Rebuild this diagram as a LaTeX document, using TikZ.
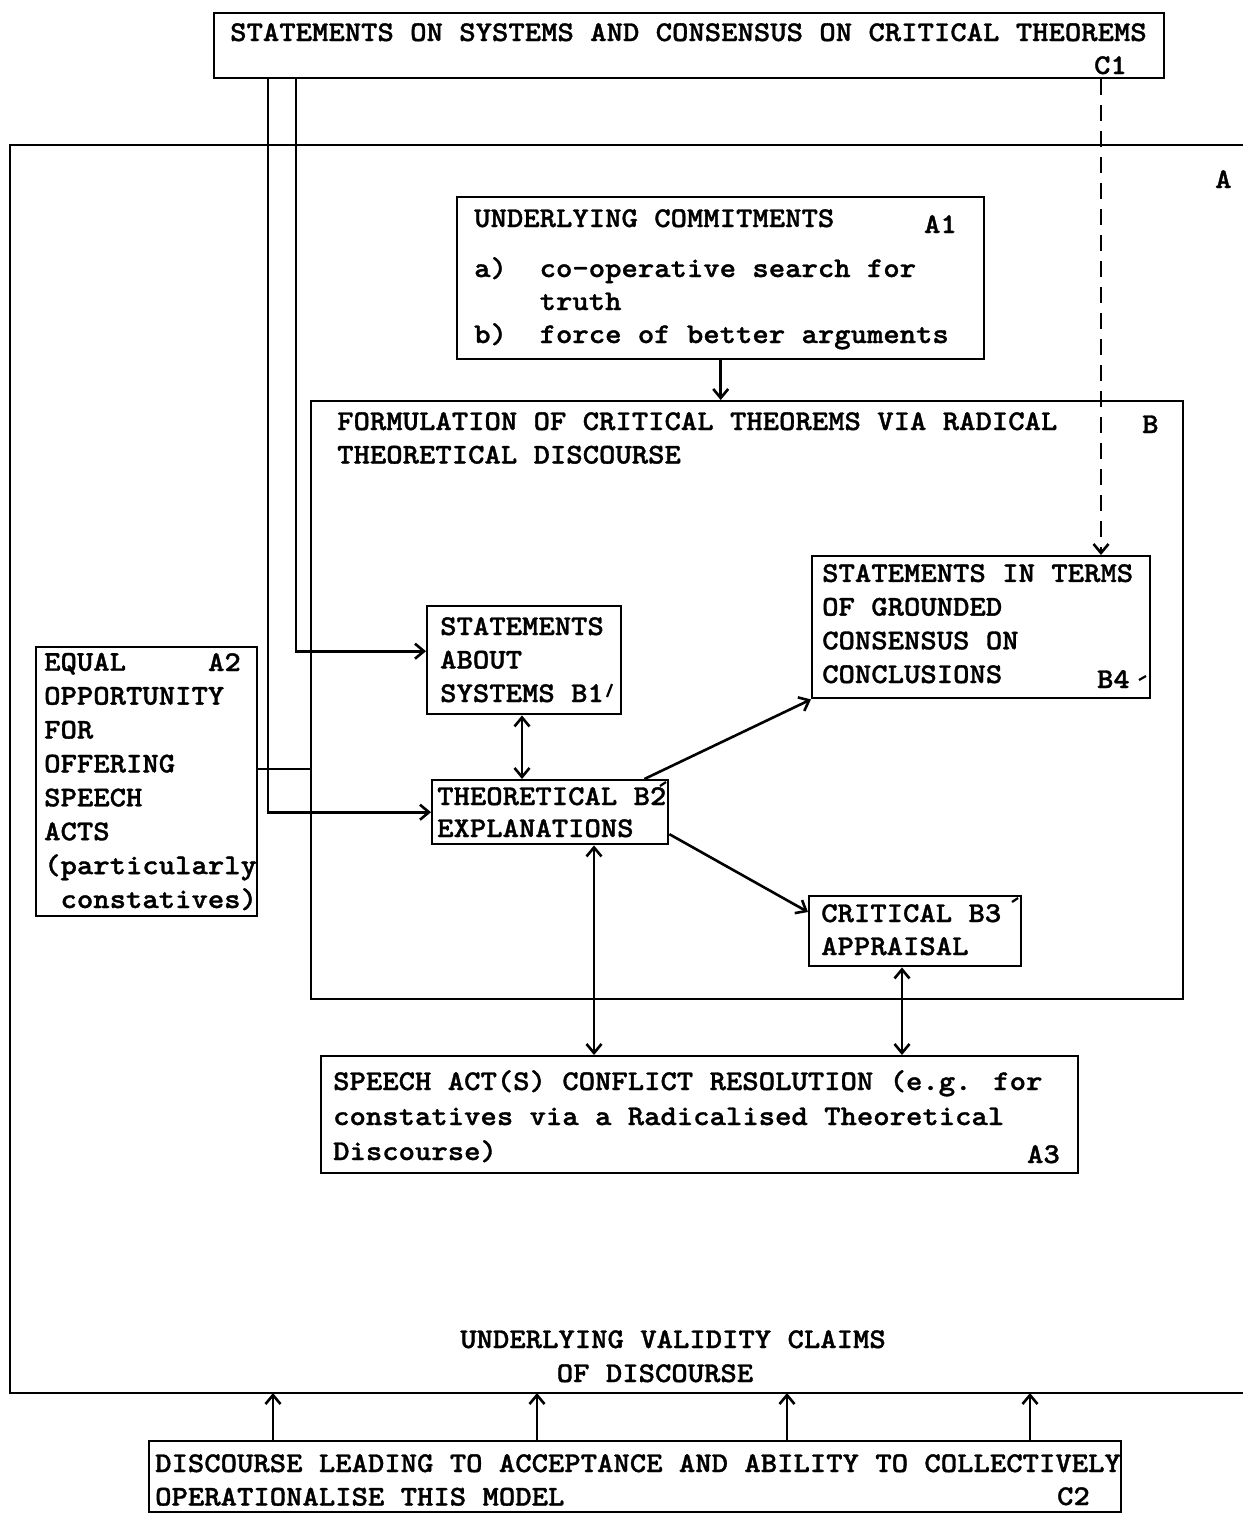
\documentclass[tikz,border=0pt]{standalone}
\usepackage{fontspec}
\usetikzlibrary{arrows.meta}
\newfontfamily\tw{lmmonolt10-bold.otf}[FakeStretch=1.09,FakeBold=1.2]
\tikzset{
  box/.style={draw, line width=2.4pt, inner sep=0pt, anchor=north west},
  lbl/.style={font=\tw\fontsize{28.6}{33.5}\selectfont, inner sep=0pt, anchor=base west, align=left},
  lblr/.style={lbl, anchor=base east},
  ln/.style={line width=2.4pt},
  tick/.style={line width=2.2pt},
  arr/.style={line width=2.6pt, -{Straight Barb[length=9pt,width=15pt]}},
  darr/.style={line width=2.6pt, {Straight Barb[length=9pt,width=15pt]}-{Straight Barb[length=9pt,width=15pt]}},
}
\begin{document}
\begin{tikzpicture}[x=1pt,y=-1pt]
\useasboundingbox (0,0) rectangle (1243,1513);
\fill[white] (0,0) rectangle (1243,1513);

% boxes
\node[box, minimum width=950pt, minimum height=65pt] (c1) at (213,12) {};
\node[box, minimum width=527pt, minimum height=162pt] (a1) at (456,196) {};
\node[box, minimum width=872pt, minimum height=598pt] (b) at (310,400) {};
\node[box, minimum width=338pt, minimum height=142pt] (b4) at (811,555) {};
\node[box, minimum width=194pt, minimum height=108pt] (b1) at (426,605) {};
\node[box, minimum width=236pt, minimum height=64pt] (b2) at (431,779) {};
\node[box, minimum width=212pt, minimum height=70pt] (b3) at (808,895) {};
\node[box, minimum width=221pt, minimum height=269pt] (a2) at (35,646) {};
\node[box, minimum width=757pt, minimum height=117pt] (a3) at (320,1055) {};
\node[box, minimum width=972pt, minimum height=71pt] (c2) at (148,1440) {};

% outer frame A
\coordinate (atr) at (1243,145);
\coordinate (atl) at (10,145);
\coordinate (abl) at (10,1393);
\coordinate (abr) at (1243,1393);
\draw[ln] (atr) -- (atl) -- (abl) -- (abr);

% texts (multi-line nodes are placed by the baseline of their last line)
\node[lbl] (t-c1) at (230,41) {STATEMENTS ON SYSTEMS AND CONSENSUS ON CRITICAL THEOREMS};
\node[lblr] (l-c1) at (1127,74) {C1};
\node[lbl] (t-a) at (1215,188) {A};
\node[lbl] (t-a1) at (474,227) {UNDERLYING COMMITMENTS};
\node[lblr] (l-a1) at (957,233) {A1};
\node[lbl, font=\tw\fontsize{28.6}{33}\selectfont] (t-a1b) at (474,343) {a)~~co-operative search for\\~~~~truth\\b)~~force of better arguments};
\node[lbl] (t-b) at (337,463.5) {FORMULATION OF CRITICAL THEOREMS VIA RADICAL\\THEORETICAL DISCOURSE};
\node[lbl] (l-b) at (1142,433) {B};
\node[lbl, font=\tw\fontsize{28.6}{33.7}\selectfont] (t-b4) at (822,683) {STATEMENTS IN TERMS\\OF GROUNDED\\CONSENSUS ON\\CONCLUSIONS};
\node[lblr] (l-b4) at (1130,688) {B4};
\node[lbl] (t-b1) at (440,702) {STATEMENTS\\ABOUT\\SYSTEMS B1};
\node[lbl, font=\tw\fontsize{28.6}{32}\selectfont] (t-b2) at (437,837) {THEORETICAL B2\\EXPLANATIONS};
\node[lbl, font=\tw\fontsize{28.6}{33}\selectfont] (t-b3) at (821,955) {CRITICAL B3\\APPRAISAL};
\node[lbl, font=\tw\fontsize{28.6}{33.9}\selectfont] (t-a2) at (44,908) {EQUAL\\OPPORTUNITY\\FOR\\OFFERING\\SPEECH\\ACTS\\(particularly\\~constatives)};
\node[lblr] (l-a2) at (241,671) {A2};
\node[lbl, font=\tw\fontsize{28.6}{35}\selectfont] (t-a3) at (333,1160) {SPEECH ACT(S) CONFLICT RESOLUTION (e.g. for\\constatives via a Radicalised Theoretical\\Discourse)};
\node[lblr] (l-a3) at (1060,1163) {A3};
\node[lbl, anchor=base] (t-v1) at (673,1348) {UNDERLYING VALIDITY CLAIMS};
\node[lbl, anchor=base] (t-v2) at (655,1382) {OF DISCOURSE};
\node[lbl] (t-c2) at (155,1505.5) {DISCOURSE LEADING TO ACCEPTANCE AND ABILITY TO COLLECTIVELY\\OPERATIONALISE THIS MODEL};
\node[lblr] (l-c2) at (1090,1505) {C2};

% small tick marks after the B labels
\draw[tick] (612,684) -- (607,697);
\draw[tick] (660,786) -- (666,782);
\draw[tick] (1012,902) -- (1018,898);
\draw[tick] (1139,680) -- (1146,676);

% connectors
\draw[arr] (a1.south) -- (a1.south |- b.north);
\coordinate (dx) at (1101,0);
\draw[arr, dash pattern=on 16pt off 10pt] (c1.south -| dx) -- (b4.north -| dx);
\coordinate (l1) at (268,0);
\coordinate (l2) at (296,0);
\draw[arr] (c1.south -| l2) |- ([yshift=9pt]b1.west);
\draw[arr] (c1.south -| l1) |- (b2.west);
\coordinate (h) at (0,769);
\draw[ln] (a2.east |- h) -- (b.west |- h);
\coordinate (v1) at (522,0);
\draw[darr] (b1.south -| v1) -- (b2.north -| v1);
\draw[arr] ([xshift=-25pt]b2.north east) -- (b4.south west);
\draw[arr] ([yshift=-22pt]b2.east) -- ([yshift=-17pt]b3.north west);
\coordinate (v2) at (594,0);
\coordinate (v3) at (902,0);
\draw[darr] (b2.south -| v2) -- (a3.north -| v2);
\draw[darr] (b3.south -| v3) -- (a3.north -| v3);
\foreach \x [count=\i] in {273,537,787,1030} {
  \coordinate (bx\i) at (\x,0);
  \draw[arr] (c2.north -| bx\i) -- (abl -| bx\i);
}
\end{tikzpicture}
\end{document}
